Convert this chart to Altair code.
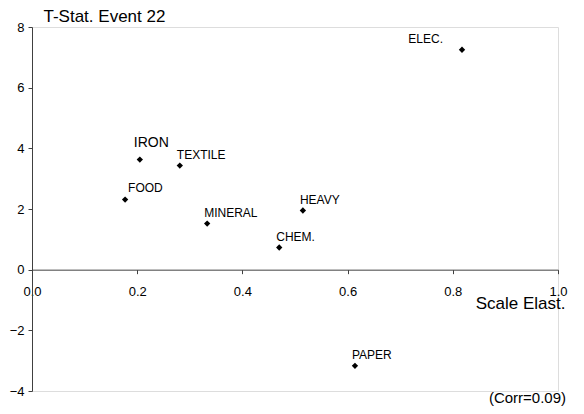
import altair as alt
import pandas as pd

sectors = ["ELEC.", "IRON", "TEXTILE", "FOOD", "MINERAL", "HEAVY", "CHEM.", "PAPER"]
scale_elast = [0.8175, 0.205, 0.281, 0.177, 0.333, 0.515, 0.470, 0.614]
t_stat = [7.25, 3.63, 3.43, 2.31, 1.52, 1.95, 0.73, -3.17]

x_ticks = [0.0, 0.2, 0.4, 0.6, 0.8, 1.0]
y_ticks = [-4, -2, 0, 2, 4, 6, 8]

df = pd.DataFrame({"sector": sectors, "x": scale_elast, "y": t_stat})

FONT = "Liberation Sans"
W, H = 526, 364
y_min, y_max = -4, 8
zero_offset = -(H - (y_max - 0) / (y_max - y_min) * H)

xs = alt.Scale(domain=[0, 1], nice=False, zero=False)
ys = alt.Scale(domain=[y_min, y_max], nice=False, zero=False)

base = alt.Chart(df)

points = base.mark_point(shape="diamond", filled=True, color="black", size=40, opacity=1).encode(
    x=alt.X("x:Q", scale=xs, axis=alt.Axis(
        values=x_ticks, format=".1f", orient="bottom", offset=zero_offset,
        grid=False, domainColor="#404040", tickColor="#404040", tickSize=4,
        labelFont=FONT, labelFontSize=13, labelColor="black", labelPadding=12,
        labelFlush=False,
        title="Scale Elast.", titleFont=FONT, titleFontSize=17, titleFontWeight="normal",
        titleColor="black", titleAlign="right", titleX=533, titleY=34, titleBaseline="middle",
    )),
    y=alt.Y("y:Q", scale=ys, axis=alt.Axis(
        values=y_ticks, grid=False, domainColor="#404040", tickColor="#404040", tickSize=4,
        labelFont=FONT, labelFontSize=13, labelColor="black", labelPadding=4,
        title="T-Stat. Event 22", titleFont=FONT, titleFontSize=17, titleFontWeight="normal",
        titleColor="black", titleAngle=0, titleAlign="left", titleBaseline="alphabetic",
        titleX=11, titleY=-6,
    )),
)


def labels(names, dx, dy, align="left", size=12):
    return base.transform_filter(
        alt.FieldOneOfPredicate(field="sector", oneOf=names)
    ).mark_text(
        align=align, baseline="middle", dx=dx, dy=dy, font=FONT, fontSize=size, color="black"
    ).encode(x=alt.X("x:Q", scale=xs), y=alt.Y("y:Q", scale=ys), text="sector:N")


lab_common = labels(["TEXTILE", "MINERAL", "HEAVY", "CHEM.", "PAPER"], -3, -11)
lab_food = labels(["FOOD"], 3, -12)
lab_iron = labels(["IRON"], -6, -17, size=14)
lab_elec = labels(["ELEC."], -19, -11, align="right")

corr = alt.Chart(pd.DataFrame({"x": [1.0], "y": [-4.0], "t": ["(Corr=0.09)"]})).mark_text(
    align="right", baseline="middle", dx=8, dy=7, font=FONT, fontSize=15, color="black"
).encode(x=alt.X("x:Q", scale=xs), y=alt.Y("y:Q", scale=ys), text="t:N")

chart = alt.layer(points, lab_common, lab_food, lab_iron, lab_elec, corr).properties(
    width=W, height=H,
    autosize=alt.AutoSizeParams(type="none"),
    padding={"left": 24, "top": 19, "right": 18, "bottom": 20},
).configure_view(stroke=None).configure(background="white")

chart.save("out.html", embed_options={"renderer": "svg", "actions": False})
